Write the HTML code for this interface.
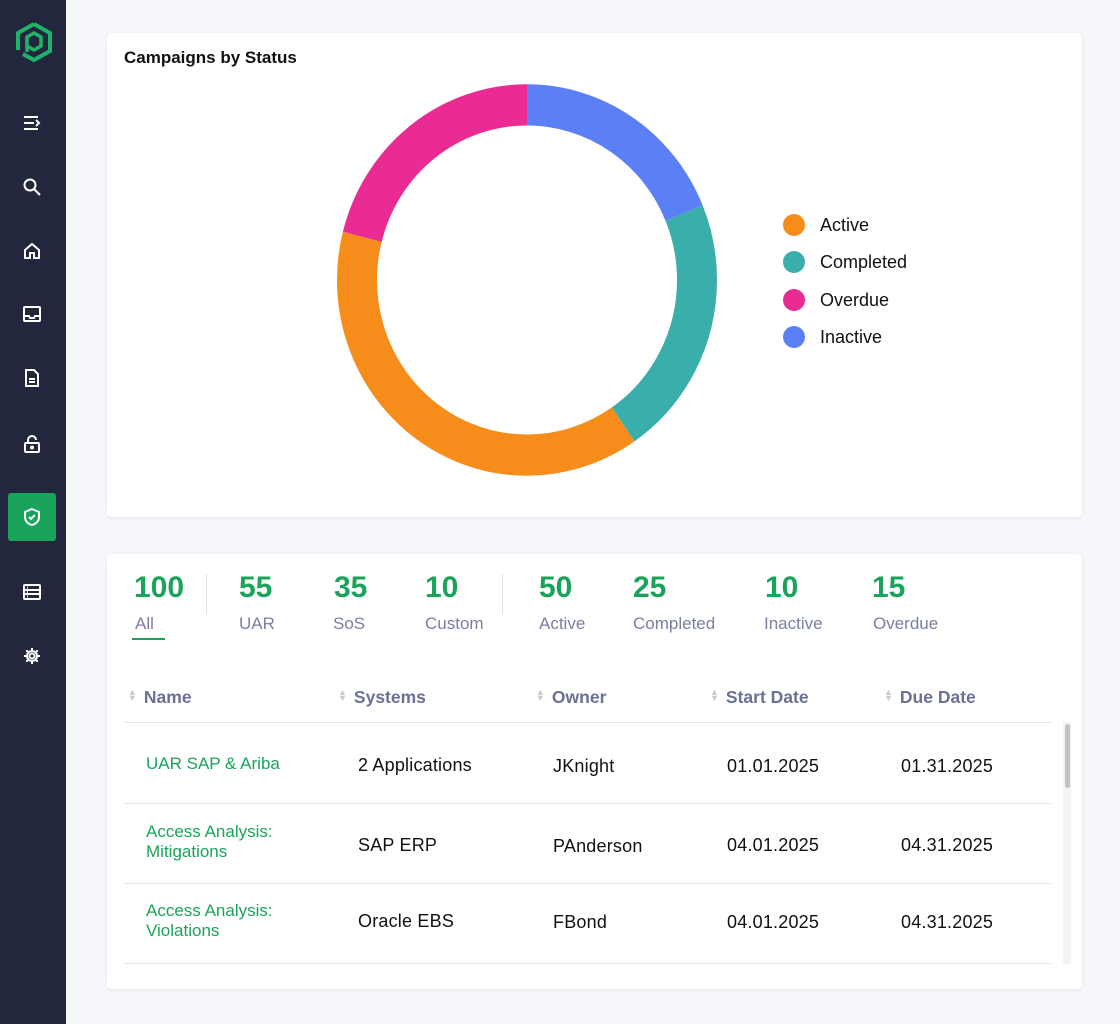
<!DOCTYPE html><html><head><style>
*{margin:0;padding:0;box-sizing:border-box}
body{width:1120px;height:1024px;background:#f6f7fb;font-family:"Liberation Sans",sans-serif;position:relative;overflow:hidden}
.sb{position:absolute;left:0;top:0;width:66px;height:1024px;background:#22273d}
.ic{position:absolute;left:22px;width:20px;height:20px}
.card{position:absolute;background:#fff;border-radius:5px;box-shadow:0 1px 4px rgba(0,0,0,.08)}
.t{position:absolute;white-space:nowrap}
.num{font-size:30px;font-weight:bold;color:#1aa35a;top:571px}
.lab{font-size:17px;color:#7a7fa3;top:614px}
.hd{font-size:17.5px;font-weight:bold;color:#6b7096;top:687px}
.hd i{font-style:normal;color:#c8cad8;font-size:9px;margin-right:7px;vertical-align:2px;display:inline-block;line-height:6px;text-align:center}
.cell{font-size:18px;color:#111;letter-spacing:.2px}
.nm{font-size:17px;color:#1aa35a;line-height:20px}
.ln{position:absolute;left:124px;width:927px;height:1px;background:#e4e5ec}
.lg{position:absolute;left:783px;width:22px;height:22px;border-radius:50%}
.lt{position:absolute;left:820px;font-size:18px;color:#111}
</style></head><body>
<div class="sb">
<svg style="position:absolute;left:15px;top:22px" width="38" height="40" viewBox="0 0 38 40"><path d="M19 2 L35 11 L35 29 L19 38 L8 32 M3 28 L3 11 L19 2" fill="none" stroke="#1fb36a" stroke-width="4"/><path d="M12 30 L12 15 L19 11 L26 15 L26 24 L19 28 L12 24" fill="none" stroke="#1fb36a" stroke-width="3.5"/></svg>
<svg class="ic" style="top:113px" viewBox="0 0 20 20" stroke="#fff" stroke-width="2" fill="none"><path d="M2 4h14M2 10h10M2 16h14M14 7l3 3-3 3"/></svg>
<svg class="ic" style="top:177px" viewBox="0 0 20 20" stroke="#fff" stroke-width="2" fill="none"><circle cx="8" cy="8" r="5.5"/><path d="M12 12l6 6"/></svg>
<svg class="ic" style="top:241px" viewBox="0 0 20 20" stroke="#fff" stroke-width="2" fill="none"><path d="M3 9l7-6 7 6v8h-5v-5h-4v5H3z"/></svg>
<svg class="ic" style="top:304px" viewBox="0 0 20 20" stroke="#fff" stroke-width="2" fill="none"><rect x="2" y="3" width="16" height="14" rx="1"/><path d="M2 12h5l1 2h4l1-2h5"/></svg>
<svg class="ic" style="top:368px" viewBox="0 0 20 20" stroke="#fff" stroke-width="2" fill="none"><path d="M4 2h8l4 4v12H4z M7 11h6M7 14h6"/></svg>
<svg class="ic" style="top:434px" viewBox="0 0 20 20" stroke="#fff" stroke-width="2" fill="none"><rect x="3" y="9" width="14" height="9" rx="1"/><path d="M6 9V6a4 4 0 0 1 8 0"/><circle cx="10" cy="13.5" r="1"/></svg>
<div style="position:absolute;left:8px;top:493px;width:48px;height:48px;background:#1aa35a;border-radius:3px"></div>
<svg class="ic" style="top:507px" viewBox="0 0 20 20" stroke="#fff" stroke-width="2" fill="none"><path d="M10 2l7 3v5c0 4-3 7-7 8-4-1-7-4-7-8V5z M7 10l2 2 4-4"/></svg>
<svg class="ic" style="top:582px" viewBox="0 0 20 20" stroke="#fff" stroke-width="2" fill="none"><rect x="2" y="3" width="16" height="14" rx="1"/><path d="M2 8h16M2 12h16M5 5.5h1M5 10h1M5 14.5h1"/></svg>
<svg class="ic" style="top:646px" viewBox="0 0 20 20" stroke="#fff" stroke-width="2" fill="none"><circle cx="10" cy="10" r="2.5"/><path d="M10 2v3M10 15v3M2 10h3M15 10h3M4.3 4.3l2.1 2.1M13.6 13.6l2.1 2.1M4.3 15.7l2.1-2.1M13.6 6.4l2.1-2.1"/><circle cx="10" cy="10" r="5"/></svg>
</div>
<div class="card" style="left:107px;top:33px;width:975px;height:484px"></div>
<div class="t" style="left:124px;top:48px;font-size:17px;font-weight:bold;color:#111">Campaigns by Status</div>
<svg style="position:absolute;left:0;top:0" width="1120" height="1024">
<g transform="translate(527 280) scale(1 1.03) rotate(-90)" fill="none" stroke-width="40">
<circle cx="0" cy="0" r="170" stroke="#5b7ff5" stroke-dasharray="200.3 2000" stroke-dashoffset="0"/>
<circle cx="0" cy="0" r="170" stroke="#3aaeab" stroke-dasharray="231.4 2000" stroke-dashoffset="-200.3"/>
<circle cx="0" cy="0" r="170" stroke="#f68c1a" stroke-dasharray="411.5 2000" stroke-dashoffset="-431.7"/>
<circle cx="0" cy="0" r="170" stroke="#ea2b93" stroke-dasharray="225 2000" stroke-dashoffset="-843.2"/>
</g></svg>
<div class="lg" style="top:214px;background:#f68c1a"></div><div class="lt" style="top:215px">Active</div>
<div class="lg" style="top:251px;background:#3aaeab"></div><div class="lt" style="top:252px">Completed</div>
<div class="lg" style="top:289px;background:#ea2b93"></div><div class="lt" style="top:290px">Overdue</div>
<div class="lg" style="top:326px;background:#5b7ff5"></div><div class="lt" style="top:327px">Inactive</div>
<div class="card" style="left:107px;top:554px;width:975px;height:435px"></div>
<div class="t num" style="left:134px">100</div><div class="t lab" style="left:135px">All</div>
<div style="position:absolute;left:132px;top:638px;width:33px;height:2px;background:#1aa35a"></div>
<div style="position:absolute;left:206px;top:574px;width:1px;height:40px;background:#e0e0e6"></div>
<div style="position:absolute;left:502px;top:574px;width:1px;height:40px;background:#e0e0e6"></div>
<div class="t num" style="left:239px">55</div><div class="t lab" style="left:239px">UAR</div>
<div class="t num" style="left:334px">35</div><div class="t lab" style="left:333px">SoS</div>
<div class="t num" style="left:425px">10</div><div class="t lab" style="left:425px">Custom</div>
<div class="t num" style="left:539px">50</div><div class="t lab" style="left:539px">Active</div>
<div class="t num" style="left:633px">25</div><div class="t lab" style="left:633px">Completed</div>
<div class="t num" style="left:765px">10</div><div class="t lab" style="left:764px">Inactive</div>
<div class="t num" style="left:872px">15</div><div class="t lab" style="left:873px">Overdue</div>
<div class="t hd" style="left:128px"><i>▲<br>▼</i>Name</div>
<div class="t hd" style="left:338px"><i>▲<br>▼</i>Systems</div>
<div class="t hd" style="left:536px"><i>▲<br>▼</i>Owner</div>
<div class="t hd" style="left:710px"><i>▲<br>▼</i>Start Date</div>
<div class="t hd" style="left:884px"><i>▲<br>▼</i>Due Date</div>
<div class="ln" style="top:722px"></div><div class="ln" style="top:803px"></div><div class="ln" style="top:883px"></div><div class="ln" style="top:963px"></div>
<div class="t nm" style="left:146px;top:754px">UAR SAP &amp; Ariba</div>
<div class="t cell" style="left:358px;top:755px">2 Applications</div>
<div class="t cell" style="left:553px;top:756px">JKnight</div>
<div class="t cell" style="left:727px;top:756px">01.01.2025</div>
<div class="t cell" style="left:901px;top:756px">01.31.2025</div>
<div class="t nm" style="left:146px;top:822px">Access Analysis:<br>Mitigations</div>
<div class="t cell" style="left:358px;top:835px">SAP ERP</div>
<div class="t cell" style="left:553px;top:836px">PAnderson</div>
<div class="t cell" style="left:727px;top:835px">04.01.2025</div>
<div class="t cell" style="left:901px;top:835px">04.31.2025</div>
<div class="t nm" style="left:146px;top:901px">Access Analysis:<br>Violations</div>
<div class="t cell" style="left:358px;top:911px">Oracle EBS</div>
<div class="t cell" style="left:553px;top:912px">FBond</div>
<div class="t cell" style="left:727px;top:912px">04.01.2025</div>
<div class="t cell" style="left:901px;top:912px">04.31.2025</div>
<div style="position:absolute;left:1063px;top:722px;width:8px;height:242px;background:#f3f3f5"></div>
<div style="position:absolute;left:1065px;top:724px;width:5px;height:64px;background:#c2c2c6;border-radius:3px"></div>
</body></html>
